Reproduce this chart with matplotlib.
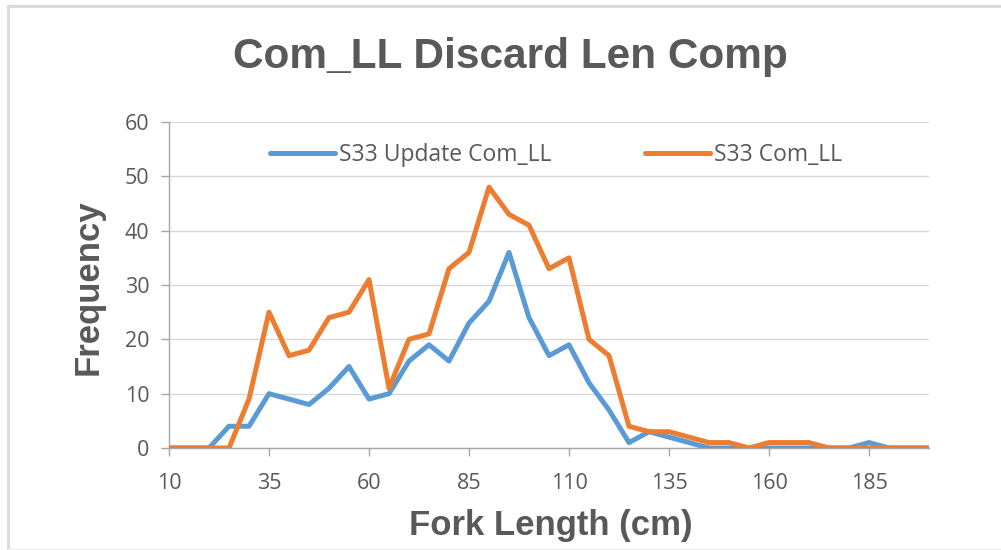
import matplotlib
matplotlib.use("Agg")
import matplotlib.pyplot as plt
from matplotlib.lines import Line2D

lengths = list(range(10, 201, 5))
update_com_ll = [0, 0, 0, 4, 4, 10, 9, 8, 11, 15, 9, 10, 16, 19, 16, 23, 27, 36, 24, 17,
                 19, 12, 7, 1, 3, 2, 1, 0, 0, 0, 0, 0, 0, 0, 0, 1, 0, 0, 0]
com_ll = [0, 0, 0, 0, 9, 25, 17, 18, 24, 25, 31, 11, 20, 21, 33, 36, 48, 43, 41, 33,
          35, 20, 17, 4, 3, 3, 2, 1, 1, 0, 1, 1, 1, 0, 0, 0, 0, 0, 0]
xticks = [10, 35, 60, 85, 110, 135, 160, 185]
yticks = [0, 10, 20, 30, 40, 50, 60]

tick_color = "#595959"
fig = plt.figure(figsize=(10.01, 5.5), dpi=100)
ax = fig.add_axes([169/1001, 1-448/550, (929-169)/1001, (448-122)/550])

ax.plot(lengths, update_com_ll, color="#5B9BD5", lw=3.6, label="S33 Update Com_LL",
        solid_joinstyle="round", solid_capstyle="round", zorder=3)
ax.plot(lengths, com_ll, color="#ED7D31", lw=3.6, label="S33 Com_LL",
        solid_joinstyle="round", solid_capstyle="round", zorder=3)

ax.set_xlim(10, 200)
ax.set_ylim(0, 60)
ax.set_xticks(xticks)
ax.set_yticks(yticks)
ax.grid(axis="y", color="#D9D9D9", lw=1)
ax.set_axisbelow(True)
for s in ["top", "right"]:
    ax.spines[s].set_visible(False)
for s in ["left", "bottom"]:
    ax.spines[s].set_color("#A6A6A6")
    ax.spines[s].set_linewidth(1)
ax.tick_params(axis="both", colors="#A6A6A6", length=6, width=1, labelcolor=tick_color,
               labelsize=15.5)
ax.tick_params(axis="x", pad=12)
ax.tick_params(axis="y", pad=8)
for lab in ax.get_xticklabels() + ax.get_yticklabels():
    lab.set_family("Open Sans")

fig.text(551/1001, 1-526/550, "Fork Length (cm)", ha="center", va="center",
         fontsize=25, fontweight="bold", color=tick_color, family="Liberation Sans")
fig.text(88/1001, 1-287/550, "Frequency", ha="center", va="center", rotation=90,
         fontsize=25, fontweight="bold", color=tick_color, family="Liberation Sans")
fig.text(510/1001, 1-57/550, "Com_LL Discard Len Comp", ha="center", va="center",
         fontsize=30.5, fontweight="bold", color=tick_color, family="Liberation Sans")

leg = ax.legend(loc="center", bbox_to_anchor=(556/1001, 1-155/550),
                bbox_transform=fig.transFigure, ncol=2, frameon=False,
                handlelength=2.85, columnspacing=4.1, handletextpad=0.15,
                prop={"family": "Open Sans", "size": 16.5})
for t in leg.get_texts():
    t.set_color(tick_color)

fig.add_artist(Line2D([8/1001, 8/1001], [1-6/550, 1-549/550], transform=fig.transFigure,
                      color="#D9D9D9", lw=2))
fig.add_artist(Line2D([8/1001, 1], [1-6/550, 1-6/550], transform=fig.transFigure,
                      color="#D9D9D9", lw=2))
fig.add_artist(Line2D([8/1001, 1], [1-549/550, 1-549/550], transform=fig.transFigure,
                      color="#EEEEEE", lw=1))

fig.savefig("out.png", dpi=100)
